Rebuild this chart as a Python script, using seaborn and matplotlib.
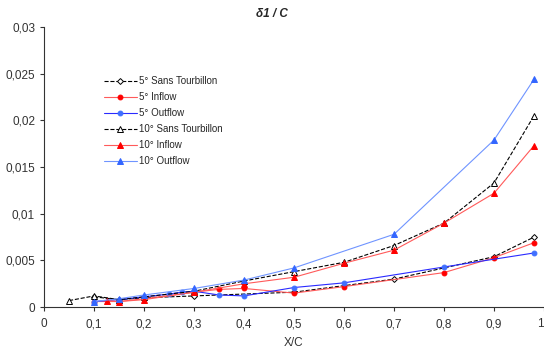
import numpy as np
import pandas as pd
import matplotlib
matplotlib.use("Agg")
import matplotlib.pyplot as plt
import seaborn as sns
from matplotlib.ticker import FuncFormatter

# données (X/C, delta1/C)
x_5_sans = [0.1, 0.15, 0.2, 0.3, 0.5, 0.7, 0.9, 0.98]
y_5_sans = [0.0011, 0.0008, 0.0010, 0.0012, 0.0016, 0.0030, 0.0054, 0.0075]

x_5_in = [0.1, 0.15, 0.2, 0.3, 0.35, 0.4, 0.5, 0.6, 0.8, 0.9, 0.98]
y_5_in = [0.0006, 0.0006, 0.0009, 0.0016, 0.0019, 0.0020, 0.0015, 0.0022, 0.0037, 0.0053, 0.0069]

x_5_out = [0.1, 0.15, 0.2, 0.25, 0.275, 0.3, 0.35, 0.4, 0.5, 0.6, 0.8, 0.98]
y_5_out = [0.0006, 0.0008, 0.0011, 0.0014, 0.0016, 0.0017, 0.0013, 0.0012, 0.0021, 0.0026, 0.0043, 0.0058]

x_10_sans = [0.05, 0.1, 0.15, 0.2, 0.3, 0.4, 0.5, 0.6, 0.7, 0.8, 0.9, 0.98]
y_10_sans = [0.0007, 0.0012, 0.0008, 0.0011, 0.0017, 0.0028, 0.0038, 0.0048, 0.0066, 0.0090, 0.0133, 0.0205]

x_10_in = [0.125, 0.15, 0.2, 0.3, 0.4, 0.5, 0.6, 0.7, 0.8, 0.9, 0.98]
y_10_in = [0.0007, 0.0006, 0.0008, 0.0016, 0.0025, 0.0032, 0.0047, 0.0061, 0.0090, 0.0122, 0.0173]

x_10_out = [0.1, 0.15, 0.2, 0.3, 0.4, 0.5, 0.7, 0.9, 0.98]
y_10_out = [0.0006, 0.0009, 0.0013, 0.0020, 0.0029, 0.0042, 0.0078, 0.0179, 0.0244]

series = [
    ("5° Sans Tourbillon", x_5_sans, y_5_sans, "black", "--", "D", "white", "black", 3),
    ("5° Inflow", x_5_in, y_5_in, "#FF5a5a", "-", "o", "red", "red", 3.5),
    ("5° Outflow", x_5_out, y_5_out, "#2a2aff", "-", "o", "#3f6fff", "#3f6fff", 3.5),
    ("10° Sans Tourbillon", x_10_sans, y_10_sans, "black", "--", "^", "white", "black", 4),
    ("10° Inflow", x_10_in, y_10_in, "#FF5a5a", "-", "^", "red", "red", 5),
    ("10° Outflow", x_10_out, y_10_out, "#6f94ff", "-", "^", "#3366ff", "#3366ff", 5),
]

sns.set_style("white")
plt.rcParams["font.family"] = ["Liberation Sans", "DejaVu Sans"]

fig = plt.figure(figsize=(5.44, 3.51), dpi=100)
ax = fig.add_axes([0.081, 0.125, 0.919, 0.798])

for name, xs, ys, col, ls, mk, mfc, mec, ms in series:
    df = pd.DataFrame({"x": xs, "y": ys})
    sns.lineplot(data=df, x="x", y="y", ax=ax, sort=False, color=col,
                 linestyle=ls, linewidth=0.8, marker=mk, markersize=ms,
                 markerfacecolor=mfc, markeredgecolor=mec, markeredgewidth=0.7,
                 label=name)

ax.set_xlim(0, 1)
ax.set_ylim(0, 0.03)
ax.set_xticks(np.arange(0, 1.01, 0.1))
ax.set_yticks(np.arange(0, 0.0301, 0.005))

def fmt(v, pos):
    s = ("%.3f" % v).rstrip("0").rstrip(".")
    return s.replace(".", ",")

ax.xaxis.set_major_formatter(FuncFormatter(fmt))
ax.yaxis.set_major_formatter(FuncFormatter(fmt))
ax.tick_params(axis="both", labelsize=8.5, colors="#333333", length=3, width=0.8,
               direction="out", left=True, bottom=True)
ax.tick_params(axis="x", pad=5)

for side in ["top", "right"]:
    ax.spines[side].set_visible(False)
for side in ["left", "bottom"]:
    ax.spines[side].set_color("#333333")
    ax.spines[side].set_linewidth(0.8)

ax.set_xlabel("X/C", fontsize=8.5, color="#333333", labelpad=5)
ax.set_ylabel("")
fig.text(0.5, 0.96, "δ1 / C", ha="center", va="center", fontsize=8.5,
         fontweight="bold", fontstyle="italic")

leg = ax.legend(loc="upper left", bbox_to_anchor=(0.112, 0.838), frameon=False,
                fontsize=7, handlelength=3.4, handletextpad=0.2,
                labelspacing=0.62, borderaxespad=0)

fig.canvas.draw()
xl = ax.get_xticklabels()
xl[-1].set_horizontalalignment("right")

fig.savefig("out.png", dpi=100)
